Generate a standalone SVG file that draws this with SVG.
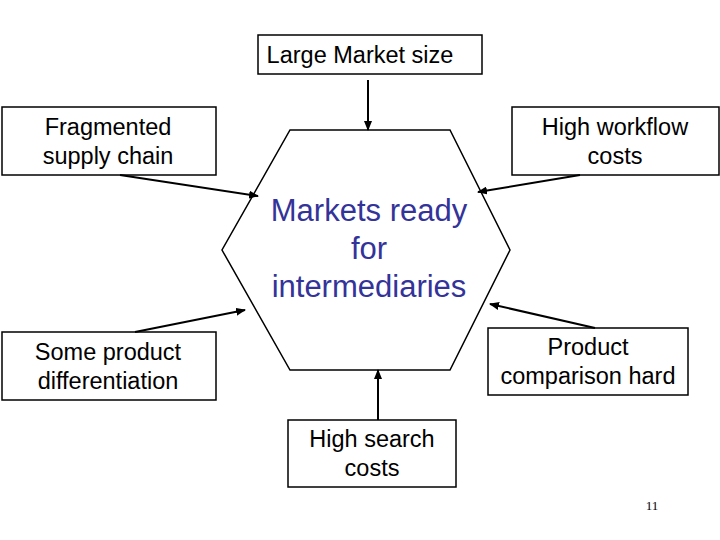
<svg xmlns="http://www.w3.org/2000/svg" width="720" height="540" viewBox="0 0 720 540">
<style>
.b{fill:#fff;stroke:#000;stroke-width:1.5}
.t{font-family:"Liberation Sans",Arial,sans-serif;font-size:23.5px;fill:#000;text-anchor:middle}
.c{stroke:#000;stroke-width:2;fill:none;marker-end:url(#a)}
</style>
<defs><marker id="a" markerWidth="10" markerHeight="8" refX="9" refY="4" orient="auto" markerUnits="userSpaceOnUse"><path d="M0,0 L10,4 L0,8 z" fill="#000"/></marker></defs>
<rect width="720" height="540" fill="#fff"/>
<g id="hub"><polygon points="290,130 450,130 510,250 450,370 290,370 222,250" class="b"/>
<text font-family="Liberation Sans,Arial,sans-serif" font-size="31" fill="#333399" text-anchor="middle"><tspan x="369" y="221">Markets ready</tspan><tspan x="369" y="259">for</tspan><tspan x="369" y="297">intermediaries</tspan></text></g>
<g id="n1"><rect x="258" y="35" width="224" height="39" class="b"/><text class="t" x="360" y="63">Large Market size</text></g>
<g id="n2"><rect x="2" y="107" width="214" height="68" class="b"/><text class="t"><tspan x="108" y="135">Fragmented</tspan><tspan x="108" y="164">supply chain</tspan></text></g>
<g id="n3"><rect x="512" y="107" width="207" height="68" class="b"/><text class="t"><tspan x="615" y="135">High workflow</tspan><tspan x="615" y="164">costs</tspan></text></g>
<g id="n4"><rect x="2" y="332" width="214" height="68" class="b"/><text class="t"><tspan x="108" y="360">Some product</tspan><tspan x="108" y="389">differentiation</tspan></text></g>
<g id="n5"><rect x="488" y="328" width="200" height="67" class="b"/><text class="t"><tspan x="588" y="355">Product</tspan><tspan x="588" y="384">comparison hard</tspan></text></g>
<g id="n6"><rect x="288" y="420" width="168" height="67" class="b"/><text class="t"><tspan x="372" y="447">High search</tspan><tspan x="372" y="476">costs</tspan></text></g>
<g id="connectors">
<line x1="368" y1="80" x2="368" y2="130" class="c"/>
<line x1="120" y1="175" x2="258" y2="196" class="c"/>
<line x1="580" y1="175" x2="478" y2="192" class="c"/>
<line x1="135" y1="332" x2="245" y2="310" class="c"/>
<line x1="595" y1="328" x2="490" y2="304" class="c"/>
<line x1="378" y1="420" x2="378" y2="370" class="c"/>
</g>
<text x="652" y="510" font-family="Liberation Serif,serif" font-size="13" text-anchor="middle">11</text>
</svg>
